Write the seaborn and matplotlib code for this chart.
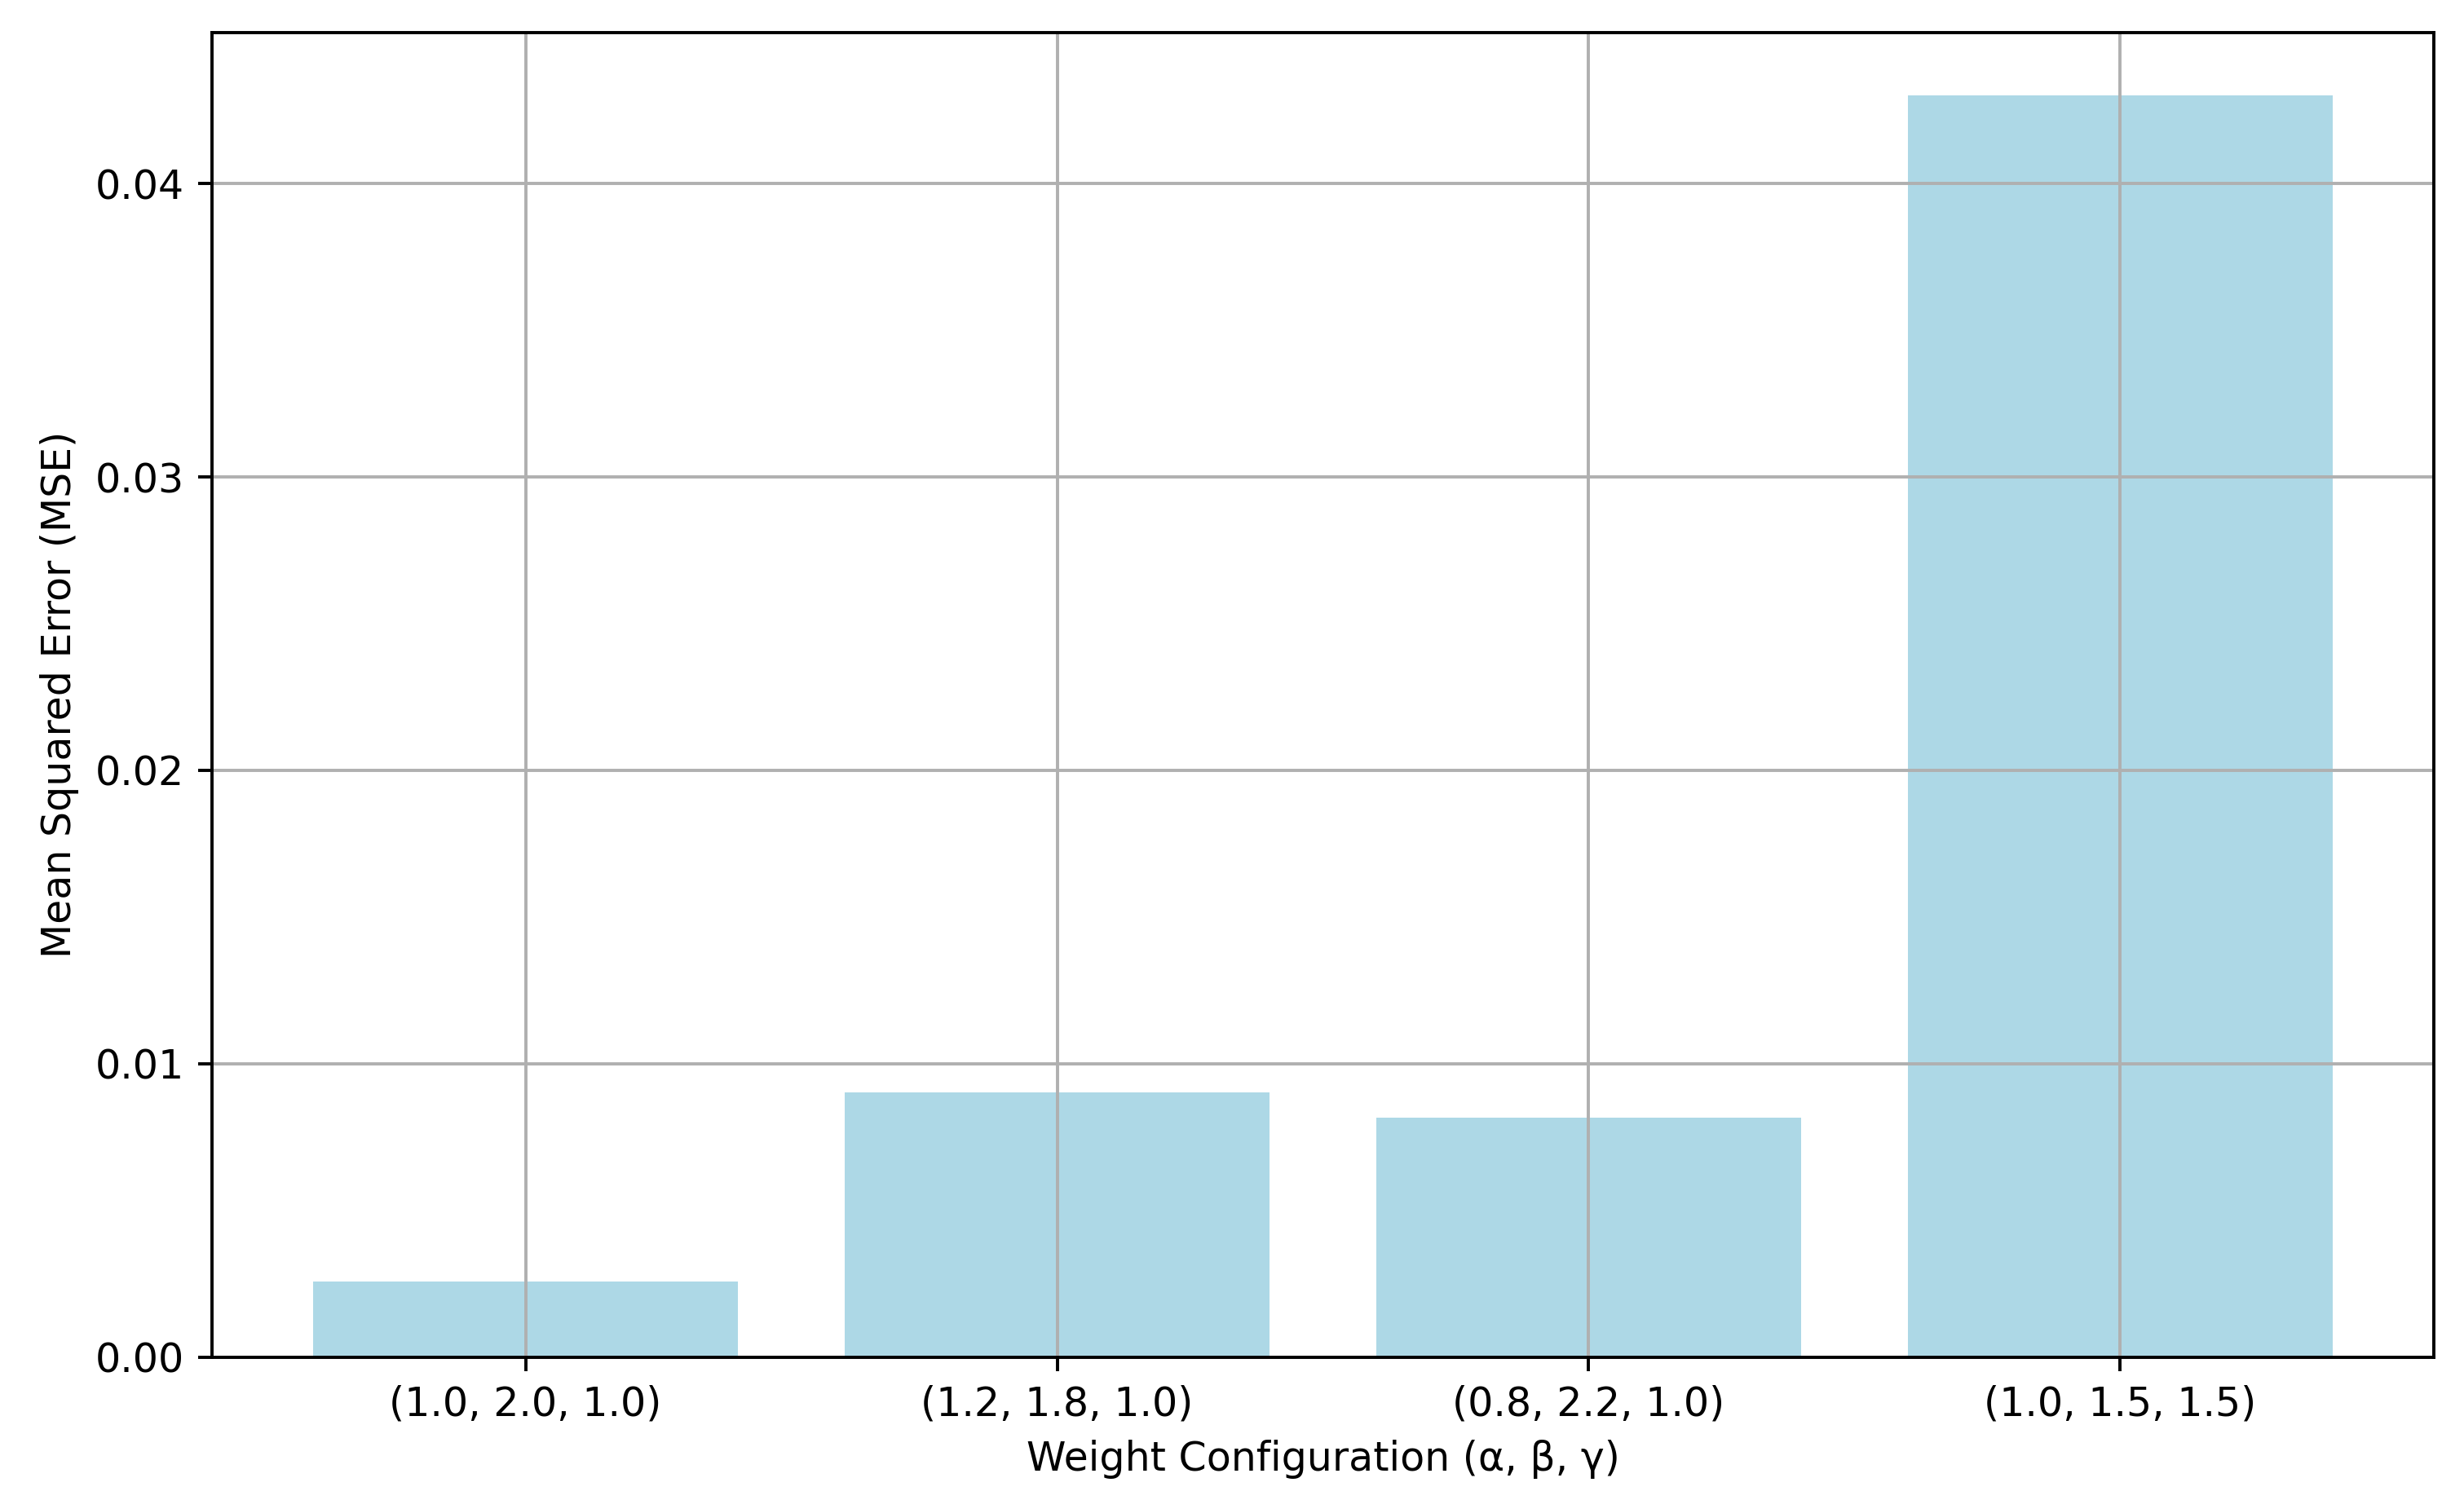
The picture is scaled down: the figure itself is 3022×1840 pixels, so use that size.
import matplotlib
matplotlib.use('Agg')
import matplotlib.pyplot as plt
import seaborn as sns
import pandas as pd

configs = ['(1.0, 2.0, 1.0)', '(1.2, 1.8, 1.0)', '(0.8, 2.2, 1.0)', '(1.0, 1.5, 1.5)']
mse = [0.00258, 0.00903, 0.00815, 0.0430]

df = pd.DataFrame({'config': configs, 'mse': mse})

DPI = 352.5
fig, ax = plt.subplots(figsize=(3022 / DPI, 1840 / DPI))
sns.barplot(data=df, x='config', y='mse', color='lightblue', saturation=1, width=0.8, ax=ax)
ax.set_xlabel('Weight Configuration (α, β, γ)')
ax.set_ylabel('Mean Squared Error (MSE)')
ax.set_xlim(-0.59, 3.59)
ax.grid(True)

fig.subplots_adjust(left=260 / 3022, right=2985 / 3022, top=1 - 40 / 1840, bottom=1 - 1664.5 / 1840)
plt.savefig('out.png', dpi=DPI)
